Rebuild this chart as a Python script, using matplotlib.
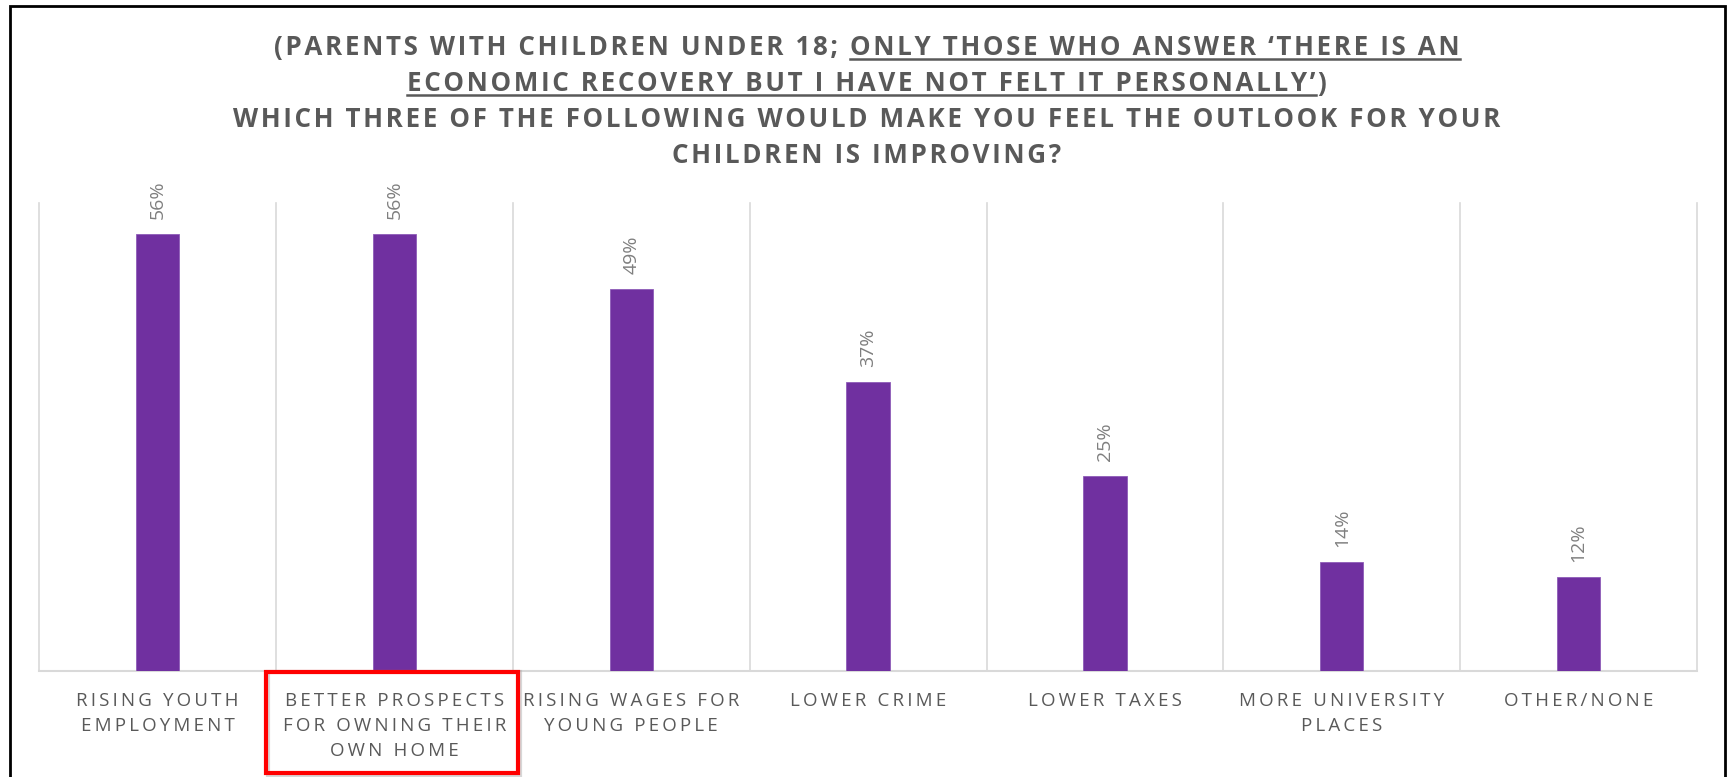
import matplotlib
matplotlib.use("Agg")
import matplotlib.pyplot as plt
from matplotlib.patches import Rectangle
from matplotlib.lines import Line2D

# ---------------- data ----------------
categories = [
    "RISING YOUTH\nEMPLOYMENT",
    "BETTER PROSPECTS\nFOR OWNING THEIR\nOWN HOME",
    "RISING WAGES FOR\nYOUNG PEOPLE",
    "LOWER CRIME",
    "LOWER TAXES",
    "MORE UNIVERSITY\nPLACES",
    "OTHER/NONE",
]
values = [56, 56, 49, 37, 25, 14, 12]
value_labels = ["56%", "56%", "49%", "37%", "25%", "14%", "12%"]
title_lines = [
    "(PARENTS WITH CHILDREN UNDER 18; ONLY THOSE WHO ANSWER \u2018THERE IS AN",
    "ECONOMIC RECOVERY BUT I HAVE NOT FELT IT PERSONALLY\u2019)",
    "WHICH THREE OF THE FOLLOWING WOULD MAKE YOU FEEL THE OUTLOOK FOR YOUR",
    "CHILDREN IS IMPROVING?",
]
underlined_line1 = "ONLY THOSE WHO ANSWER \u2018THERE IS AN"
underlined_line2 = "ECONOMIC RECOVERY BUT I HAVE NOT FELT IT PERSONALLY\u2019"

# ---------------- style ----------------
plt.rcParams["font.family"] = ["Open Sans", "DejaVu Sans"]
BAR_COLOR = "#7030A0"
TEXT_COLOR = "#595959"
LABEL_COLOR = "#7F7F7F"
GRID_COLOR = "#D9D9D9"
HAIR = "\u200a"
THIN = "\u2009"
TITLE_SIZE = 18.7


def track(s, sp=HAIR):
    return "\n".join(sp.join(line) for line in s.split("\n"))


W, H, DPI = 1729, 777, 100
fig = plt.figure(figsize=(W / DPI, H / DPI), dpi=DPI)
fig.patch.set_facecolor("white")

ax_l, ax_r, ax_t, ax_b = 39.3, 1697, 203, 671
ax = fig.add_axes([ax_l / W, 1 - ax_b / H, (ax_r - ax_l) / W, (ax_b - ax_t) / H])

x = list(range(len(values)))
ax.bar(x, values, width=0.183, color=BAR_COLOR, edgecolor="#8E5CB8", linewidth=0.6, zorder=3)
ax.set_xlim(-0.5, len(values) - 0.5)
ax.set_ylim(0, 60)

for i in range(len(values) + 1):
    ax.axvline(i - 0.5, color=GRID_COLOR, lw=1.2, zorder=1, clip_on=False)

for s in ["top", "left", "right"]:
    ax.spines[s].set_visible(False)
ax.spines["bottom"].set_color(GRID_COLOR)
ax.spines["bottom"].set_linewidth(1.5)
ax.set_yticks([])
ax.set_xticks(x)
ax.set_xticklabels([track(c, THIN) for c in categories], fontsize=13.5, color=TEXT_COLOR,
                   linespacing=1.52)
ax.tick_params(axis="x", length=0, pad=15)

for xi, v, lbl in zip(x, values, value_labels):
    ax.annotate(lbl, (xi, v), xytext=(0, 11), textcoords="offset points",
                rotation=90, ha="center", va="bottom", fontsize=14, color=LABEL_COLOR)

# ---------------- title ----------------
cx = 867 / W
baselines = [55, 91, 127, 163]
title_texts = []
for line, b in zip(title_lines, baselines):
    t = fig.text(cx, 1 - b / H, track(line), ha="center", va="baseline", fontsize=TITLE_SIZE,
                 fontweight="bold", color=TEXT_COLOR)
    title_texts.append(t)

renderer = fig.canvas.get_renderer()


def text_width(s):
    tmp = fig.text(0, 0, track(s), fontsize=TITLE_SIZE, fontweight="bold")
    w = tmp.get_window_extent(renderer).width
    tmp.remove()
    return w


bb1 = title_texts[0].get_window_extent(renderer)
w1 = text_width(underlined_line1)
fig.add_artist(Line2D([(bb1.x1 - w1) / W, bb1.x1 / W], [1 - 59 / H, 1 - 59 / H],
                      transform=fig.transFigure, color=TEXT_COLOR, lw=1.8))
bb2 = title_texts[1].get_window_extent(renderer)
w2 = text_width(underlined_line2)
fig.add_artist(Line2D([bb2.x0 / W, (bb2.x0 + w2) / W], [1 - 95 / H, 1 - 95 / H],
                      transform=fig.transFigure, color=TEXT_COLOR, lw=1.8))

# ---------------- frame and highlight ----------------
fig.add_artist(Rectangle((10 / W, -0.1), (1725 - 10) / W, 1.1 - 6 / H,
                         transform=fig.transFigure, fill=False, edgecolor="black",
                         lw=2.0, zorder=10))
fig.add_artist(Rectangle((268 / W, 1 - 775 / H), (518 - 266) / W, (775 - 672) / H,
                         transform=fig.transFigure, fill=False, edgecolor="#B0B0B0",
                         lw=3.0, zorder=9, alpha=0.5))
fig.add_artist(Rectangle((266 / W, 1 - 773 / H), (518 - 266) / W, (773 - 672) / H,
                         transform=fig.transFigure, fill=False, edgecolor="#FF0000",
                         lw=3.0, zorder=10))

fig.savefig("out.png", dpi=DPI, facecolor="white")
